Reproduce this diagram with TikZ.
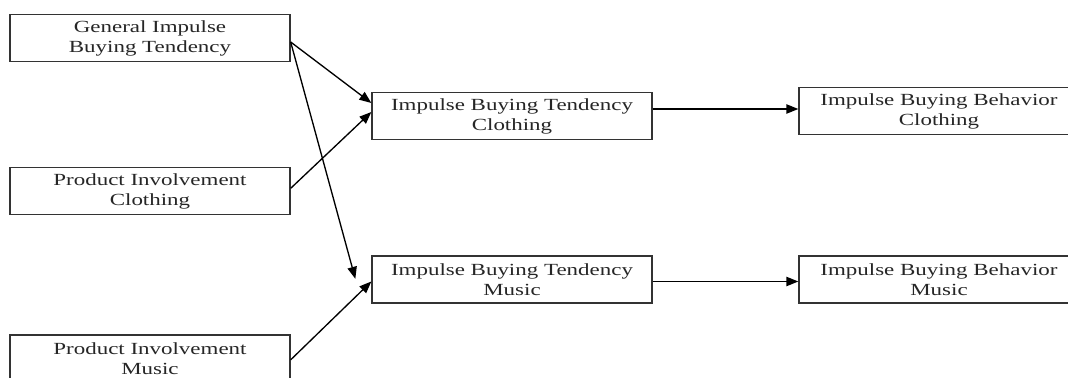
\documentclass[tikz,border=0pt]{standalone}
\usepackage{fontspec}
\setmainfont[FakeStretch=1.35]{Liberation Serif}
\usetikzlibrary{arrows.meta}
\begin{document}
\begin{tikzpicture}[x=0.75pt,y=-0.75pt,
  box/.style={draw=black!80,line width=1pt,minimum width=210pt,minimum height=35.25pt,
    inner sep=0pt,align=center,text=black!85,font=\fontsize{12.75}{15}\selectfont},
  link/.style={draw=black,line width=1pt,-{Triangle[length=9pt,width=7pt]}}]
\useasboundingbox (0,0) rectangle (1068,378);
\clip (0,0) rectangle (1068,378);
\fill[white] (0,0) rectangle (1068,378);
% inputs
\node[box] (gen) at (150,38) {General Impulse\\Buying Tendency};
\node[box] (pic) at (150,191) {Product Involvement\\Clothing};
\node[box] (pim) at (150,358.5) {Product Involvement\\Music};
% tendencies
\node[box] (ibtc) at (512,116) {Impulse Buying Tendency\\Clothing};
\node[box] (ibtm) at (512,279.5) {Impulse Buying Tendency\\Music};
% behaviours
\node[box] (ibbc) at (939,111) {Impulse Buying Behavior\\Clothing};
\node[box] (ibbm) at (939,279.5) {Impulse Buying Behavior\\Music};
% connectors
\draw[link] ([yshift=-3pt]gen.east) -- ([yshift=9.75pt]ibtc.west);
\draw[link] ([yshift=2pt]pic.east) -- ([yshift=3pt]ibtc.west);
\draw[link] ([yshift=-3pt]gen.east) -- ([xshift=-12pt,yshift=0.5pt]ibtm.west);
\draw[link] ([yshift=-1pt]pim.east) -- ([yshift=-1.5pt]ibtm.west);
\draw[link] ([yshift=5.25pt]ibtc.east) -- ([yshift=1.5pt]ibbc.west);
\draw[link] ([yshift=-1.5pt]ibtm.east) -- ([yshift=-1.5pt]ibbm.west);
\end{tikzpicture}
\end{document}
